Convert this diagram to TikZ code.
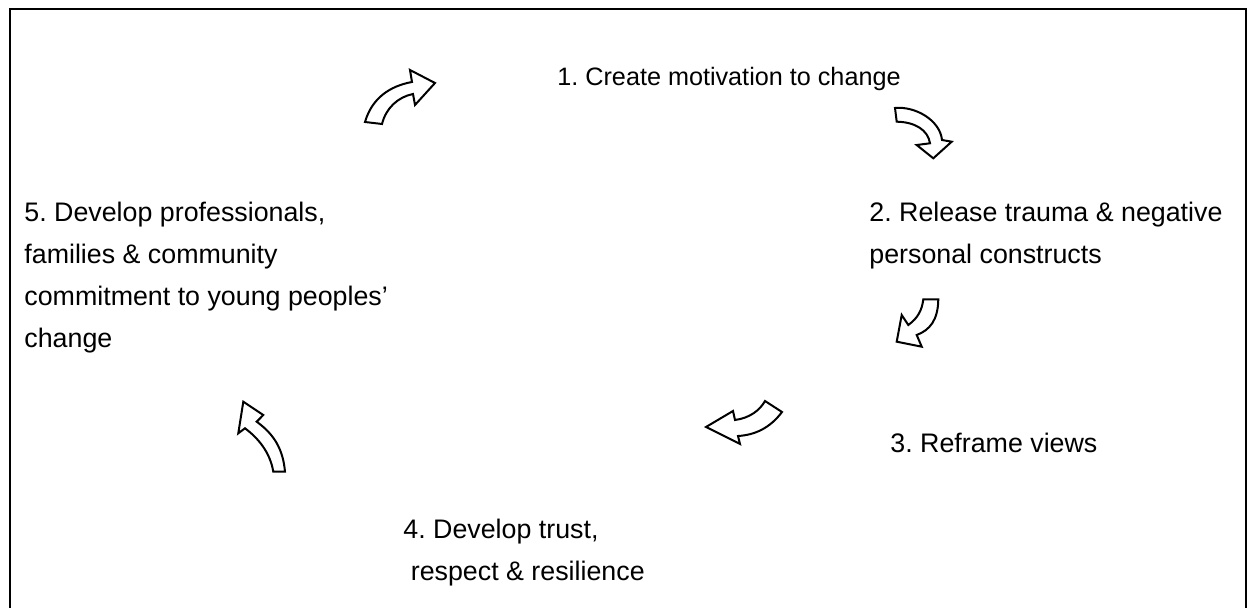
\documentclass[tikz,border=0pt]{standalone}
\usepackage{fontspec}
\setmainfont{Liberation Sans}
\frenchspacing
\begin{document}
\begin{tikzpicture}[x=0.5pt,y=-0.5pt,
  label/.style={anchor=base west,inner sep=0pt,align=left,
    font=\fontsize{13.4}{21}\selectfont},
  blockarrow/.style={draw=black,fill=white,line width=1pt,line join=miter}]
\useasboundingbox (0,0) rectangle (1247,608);
% frame
\draw[line width=1pt] (10,608) -- (10,9.5) -- (1245.5,9.5) -- (1245.5,608);
% stage labels (base anchor sits on the last line of each label)
\node[label,font=\fontsize{12.6}{21}\selectfont] (s1) at (557,86) {1. Create motivation to change};
\node[label] (s2) at (869,264) {2. Release trauma \& negative\\personal constructs};
\node[label] (s3) at (890,453) {3. Reframe views};
\node[label] (s4) at (403,581) {4. Develop trust,\\\ respect \& resilience};
\node[label] (s5) at (24,348) {5. Develop professionals,\\families \& community\\commitment to young peoples’\\change};
% curved block arrows between the stages
\draw[blockarrow] (365,122) .. controls (372,98) and (390,86) .. (412,82)
  -- (410,70) -- (435,83) -- (415,105) -- (413,94)
  .. controls (398,97) and (386,108) .. (382,124) -- cycle;
\draw[blockarrow] (895,108) .. controls (915,106) and (940,120) .. (942,140)
  -- (951.7,141.7) -- (933.3,158.3) -- (916.7,145) -- (930,143.3)
  .. controls (928,130) and (915,122) .. (896.7,121.7) -- cycle;
\draw[blockarrow] (923.3,299.3) -- (938.3,299.3)
  .. controls (938,320) and (930,330) .. (916.7,335)
  -- (921.7,346.7) -- (896.7,341.7) -- (901.7,315) -- (908.3,325)
  .. controls (918,318) and (922,310) .. cycle;
\draw[blockarrow] (765,401) -- (782,412)
  .. controls (770,428) and (755,435) .. (738,436)
  -- (740,444) -- (706,427) -- (733,411) -- (735,420)
  .. controls (750,418) and (760,410) .. cycle;
\draw[blockarrow] (243.3,401.7) -- (263.3,415) -- (256.7,421.7)
  .. controls (275,435) and (283,450) .. (285,471.7) -- (273.3,471.7)
  .. controls (270,452) and (258,438) .. (245,428.3) -- (238.3,433.3) -- cycle;
\end{tikzpicture}
\end{document}
